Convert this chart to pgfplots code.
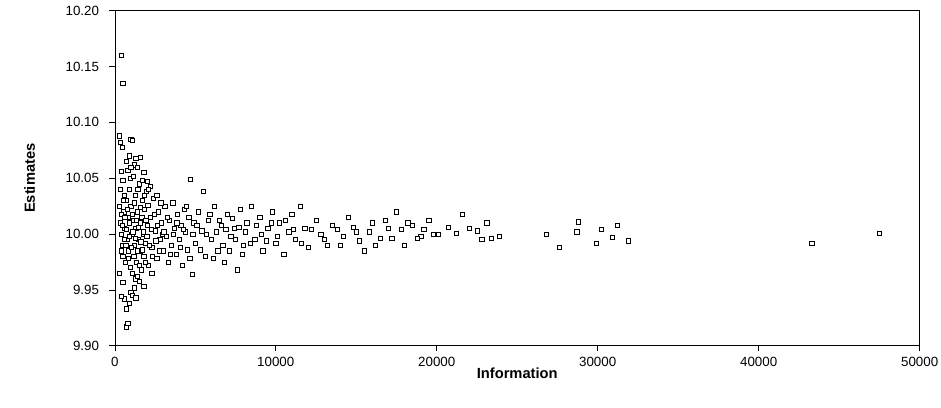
\documentclass[border=0pt]{standalone}
\usepackage{pgfplots}
\pgfplotsset{compat=1.18}
\usepackage{fontspec}
\setmainfont{Liberation Sans}
\begin{document}
\begin{tikzpicture}
\begin{axis}[name=ax,
 width=603pt,height=251pt,scale only axis,
 xmin=0,xmax=50000,ymin=9.90,ymax=10.20,
 xtick={0,10000,20000,30000,40000,50000},
 ytick={9.90,9.95,10.00,10.05,10.10,10.15,10.20},
 yticklabel style={/pgf/number format/fixed,/pgf/number format/fixed zerofill,/pgf/number format/precision=2,xshift=-4pt},
 xticklabel style={/pgf/number format/fixed,/pgf/number format/1000 sep={},yshift=-1pt},
 /pgf/number format/assume math mode=true,
 scaled x ticks=false,
 tick align=outside,tick pos=left,
 tick style={black,thin},
 axis line style={black,thin},
 ticklabel style={font=\fontsize{10}{12}\selectfont},
 xlabel={\textbf{Information}},ylabel={\textbf{Estimates}},
 label style={font=\fontsize{11}{13}\selectfont},
 xlabel style={yshift=6pt},
 ylabel style={yshift=16pt},
]
\addplot[only marks,mark=square*,mark size=1.6pt,mark options={fill=white,draw=black,line width=0.4pt}] table {
x y
400 10.160
500 10.135
300 10.088
350 10.082
450 10.078
700 9.917
800 9.920
600 9.942
400 9.944
500 9.957
300 9.965
700 9.933
900 9.938
1000 9.948
1100 9.945
1200 9.952
1300 9.943
1500 9.958
1800 9.953
400 10.056
500 10.048
600 10.035
700 10.065
800 10.057
900 10.070
1000 10.085
1100 10.084
1200 10.062
1300 10.068
1400 10.060
1600 10.069
1800 10.055
2000 10.047
2200 10.043
300 10.025
350 10.010
400 10.000
450 9.990
500 9.980
550 10.020
600 10.005
650 9.975
700 10.030
750 9.995
800 10.015
850 9.985
900 10.040
950 9.970
1000 10.025
1050 10.000
1100 9.965
1150 10.012
1200 9.990
1250 10.035
1300 10.005
1350 9.975
1400 10.020
1450 9.995
1500 10.045
1550 9.985
1600 10.010
1650 9.968
1700 10.030
1750 10.000
1800 9.980
1850 10.022
1900 9.992
1950 10.038
2000 10.008
2100 9.972
2200 10.015
2300 9.988
2400 10.032
2500 10.003
2600 9.978
2700 10.020
2800 9.995
2900 10.010
3000 9.985
3100 10.025
3200 9.998
3300 9.975
3400 10.012
3500 9.990
3600 10.028
3700 10.005
3800 9.982
3900 10.018
4000 9.995
4100 10.008
4200 9.972
4300 10.022
4400 10.002
4500 9.986
4600 10.015
4700 10.049
4800 9.964
4900 10.010
5000 9.992
5200 10.020
5400 10.003
5500 10.038
5600 9.980
5800 10.012
6000 9.995
6200 10.025
6400 9.985
6600 10.008
6800 9.975
7000 10.018
7200 9.998
7400 10.005
7600 9.968
7800 10.022
8000 9.990
8200 10.010
8500 10.025
8700 9.995
9000 10.015
9200 9.985
9500 10.005
9800 10.020
10000 9.992
10200 10.010
10500 9.982
10800 10.002
11000 10.018
11200 9.995
11500 10.025
11800 10.005
12000 9.988
12500 10.012
13000 9.995
13500 10.008
14000 9.990
14500 10.015
15000 10.002
15500 9.985
16000 10.010
16500 9.996
17000 10.005
17500 10.020
18000 9.990
18500 10.008
19000 9.998
19500 10.012
20100 10.000
20700 10.006
21200 10.001
21600 10.018
22000 10.005
22500 10.003
22800 9.995
23100 10.010
23400 9.996
23900 9.998
26800 10.000
27600 9.988
28700 10.002
28800 10.011
29900 9.992
30200 10.004
30900 9.997
31200 10.008
31900 9.994
43300 9.992
47500 10.001
320 10.040
380 10.018
420 9.985
480 10.008
520 10.030
580 9.995
620 10.015
680 9.990
720 10.004
780 10.022
820 9.978
880 10.010
920 9.998
980 10.050
1020 9.988
1080 10.018
1120 10.002
1180 9.980
1220 10.028
1280 9.996
1320 10.012
1380 9.985
1420 10.040
1480 10.006
1520 9.972
1580 10.024
1620 9.993
1680 10.015
1720 9.986
1780 10.002
1820 10.035
1880 9.975
1920 10.012
1980 9.998
2050 10.026
2150 9.990
2250 10.004
2350 9.980
2450 10.018
2550 9.994
2650 10.008
2750 9.985
2850 10.028
2950 10.000
1000 10.060
1150 10.052
1250 9.960
1400 9.962
1700 10.048
2100 10.040
2300 9.965
2600 10.035
3050 10.002
3250 10.015
3450 9.982
3650 10.000
3850 10.010
4050 9.988
4250 10.004
4450 10.025
4650 9.978
4850 10.000
5100 10.008
5300 9.986
5700 10.000
5900 10.018
6100 9.978
6300 10.002
6500 10.012
6700 9.990
6900 10.004
7100 9.985
7300 10.014
7500 9.995
7700 10.006
7900 9.982
8100 10.002
8400 9.992
8800 10.008
9100 10.000
9400 9.994
9700 10.010
10100 9.998
10600 10.012
11100 10.004
11600 9.992
12200 10.004
12800 10.000
13200 9.990
13800 10.004
14200 9.998
14800 10.006
15200 9.994
15800 10.002
16200 9.990
16800 10.012
17200 9.996
17800 10.004
18200 10.010
18800 9.996
19200 10.004
19800 10.000
};
\end{axis}
\pgfresetboundingbox
\path[use as bounding box] ([xshift=-86pt,yshift=-46pt]ax.south west) rectangle ([xshift=16pt,yshift=8pt]ax.north east);
\end{tikzpicture}
\end{document}
